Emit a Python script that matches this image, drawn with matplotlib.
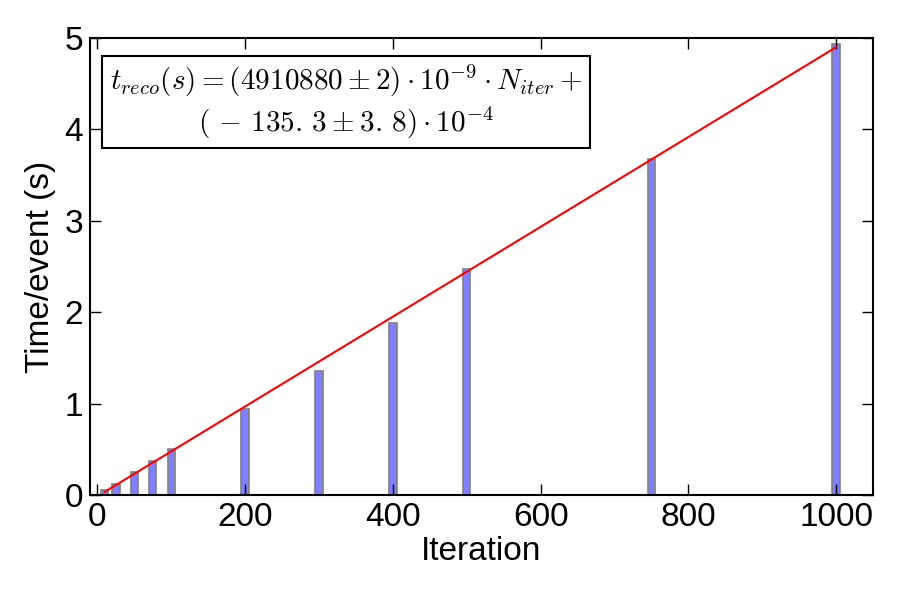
import numpy as np
import matplotlib
matplotlib.use("Agg")
import matplotlib.pyplot as plt

plt.rcParams["font.family"] = ["Liberation Sans", "DejaVu Sans"]
plt.rcParams["mathtext.fontset"] = "cm"

# iterations and measured time per event
iterations = [10, 25, 50, 75, 100, 200, 300, 400, 500, 750, 1000]
time_per_event = [0.055, 0.12, 0.25, 0.37, 0.50, 0.94, 1.36, 1.88, 2.47, 3.68, 4.93]

# fitted line end points
fit_x = [10, 1000]
fit_y = [0.035, 4.897]

fit_text = ("$t_{reco}(s) = (4910880 \\pm 2)\\cdot 10^{-9}\\cdot N_{iter} +$\n"
            "$(\\,-\\,135.\\,3 \\pm 3.\\,8)\\cdot 10^{-4}$")

fig = plt.figure(figsize=(9, 6), dpi=100)
ax = fig.add_axes([0.1, 0.175, 0.87, 0.762])

ax.bar(iterations, time_per_event, width=10, color="#8080ff",
       edgecolor="#808080", linewidth=1.2, align="center")
ax.plot(fit_x, fit_y, color="red", linewidth=1.5)

ax.set_xlim(-10, 1050)
ax.set_ylim(0, 5)
ax.set_xticks([0, 200, 400, 600, 800, 1000])
ax.set_yticks([0, 1, 2, 3, 4, 5])
ax.tick_params(direction="in", top=True, right=True, length=8, width=1,
               labelsize=24, pad=5)
for s in ax.spines.values():
    s.set_linewidth(1.5)

ax.set_xlabel("Iteration", fontsize=24, labelpad=2)
ax.set_ylabel("Time/event (s)", fontsize=24, labelpad=6)

ax.text(0.327, 0.86, fit_text, transform=ax.transAxes, fontsize=21,
        ha="center", va="center", multialignment="center",
        bbox=dict(boxstyle="square,pad=0.25", facecolor="white",
                  edgecolor="black", linewidth=1.5))

fig.savefig("out.png", dpi=100)
